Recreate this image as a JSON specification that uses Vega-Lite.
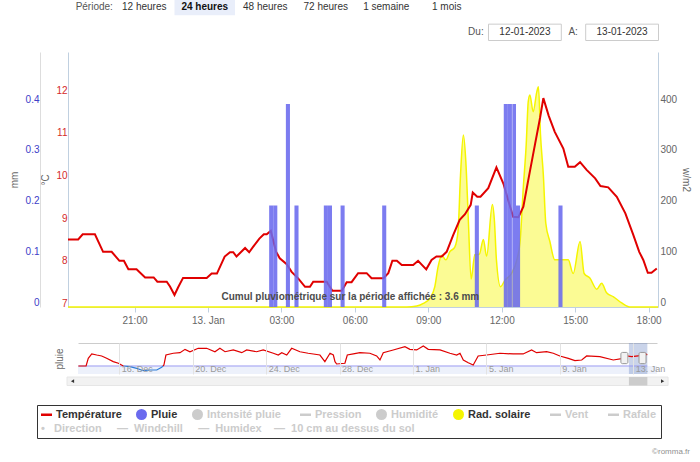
{
  "$schema": "https://vega.github.io/schema/vega-lite/v6.json",
  "width": 700,
  "height": 462,
  "autosize": {"type": "none"},
  "padding": 0,
  "background": "white",
  "title": {"text": "©romma.fr", "orient": "bottom", "anchor": "end", "frame": "group", "offset": -14, "dx": -10, "fontSize": 8, "fontWeight": "normal", "color": "#909090", "font": "Liberation Sans"},
  "datasets": {
    "periodes": [
      {"label": "12 heures", "actif": false},
      {"label": "24 heures", "actif": true},
      {"label": "48 heures", "actif": false},
      {"label": "72 heures", "actif": false},
      {"label": "1 semaine", "actif": false},
      {"label": "1 mois", "actif": false}
    ],
    "dates": [
      {"label": "Du:", "date": "12-01-2023"},
      {"label": "A:", "date": "13-01-2023"}
    ],
    "temperature": [
      {"time": "2023-01-12T18:17", "temp": 8.5},
      {"time": "2023-01-12T18:42", "temp": 8.5},
      {"time": "2023-01-12T18:53", "temp": 8.62},
      {"time": "2023-01-12T19:23", "temp": 8.62},
      {"time": "2023-01-12T19:43", "temp": 8.21},
      {"time": "2023-01-12T20:04", "temp": 8.21},
      {"time": "2023-01-12T20:23", "temp": 8.0},
      {"time": "2023-01-12T20:34", "temp": 8.0},
      {"time": "2023-01-12T20:45", "temp": 7.8},
      {"time": "2023-01-12T21:05", "temp": 7.8},
      {"time": "2023-01-12T21:26", "temp": 7.61},
      {"time": "2023-01-12T21:47", "temp": 7.61},
      {"time": "2023-01-12T21:56", "temp": 7.51},
      {"time": "2023-01-12T22:19", "temp": 7.51},
      {"time": "2023-01-12T22:27", "temp": 7.4},
      {"time": "2023-01-12T22:38", "temp": 7.2},
      {"time": "2023-01-12T22:47", "temp": 7.38},
      {"time": "2023-01-12T22:59", "temp": 7.6},
      {"time": "2023-01-12T23:57", "temp": 7.6},
      {"time": "2023-01-13T00:09", "temp": 7.7},
      {"time": "2023-01-13T00:22", "temp": 7.7},
      {"time": "2023-01-13T00:41", "temp": 8.1},
      {"time": "2023-01-13T00:54", "temp": 8.2},
      {"time": "2023-01-13T01:02", "temp": 8.2},
      {"time": "2023-01-13T01:10", "temp": 8.1},
      {"time": "2023-01-13T01:31", "temp": 8.3},
      {"time": "2023-01-13T01:41", "temp": 8.2},
      {"time": "2023-01-13T01:51", "temp": 8.33},
      {"time": "2023-01-13T02:06", "temp": 8.52},
      {"time": "2023-01-13T02:17", "temp": 8.62},
      {"time": "2023-01-13T02:24", "temp": 8.62},
      {"time": "2023-01-13T02:34", "temp": 8.7},
      {"time": "2023-01-13T02:47", "temp": 8.21},
      {"time": "2023-01-13T02:56", "temp": 8.06},
      {"time": "2023-01-13T03:13", "temp": 7.92},
      {"time": "2023-01-13T03:25", "temp": 7.74},
      {"time": "2023-01-13T03:41", "temp": 7.59},
      {"time": "2023-01-13T03:58", "temp": 7.39},
      {"time": "2023-01-13T04:10", "temp": 7.39},
      {"time": "2023-01-13T04:18", "temp": 7.51},
      {"time": "2023-01-13T04:51", "temp": 7.51},
      {"time": "2023-01-13T05:05", "temp": 7.3},
      {"time": "2023-01-13T05:28", "temp": 7.3},
      {"time": "2023-01-13T05:40", "temp": 7.5},
      {"time": "2023-01-13T05:52", "temp": 7.5},
      {"time": "2023-01-13T06:08", "temp": 7.71},
      {"time": "2023-01-13T06:29", "temp": 7.71},
      {"time": "2023-01-13T06:41", "temp": 7.59},
      {"time": "2023-01-13T07:10", "temp": 7.59},
      {"time": "2023-01-13T07:22", "temp": 7.71},
      {"time": "2023-01-13T07:32", "temp": 8.0},
      {"time": "2023-01-13T07:43", "temp": 8.0},
      {"time": "2023-01-13T07:55", "temp": 7.9},
      {"time": "2023-01-13T08:23", "temp": 7.9},
      {"time": "2023-01-13T08:35", "temp": 8.0},
      {"time": "2023-01-13T08:55", "temp": 7.8},
      {"time": "2023-01-13T09:08", "temp": 8.02},
      {"time": "2023-01-13T09:20", "temp": 8.1},
      {"time": "2023-01-13T09:33", "temp": 8.1},
      {"time": "2023-01-13T09:45", "temp": 8.21},
      {"time": "2023-01-13T10:01", "temp": 8.6},
      {"time": "2023-01-13T10:17", "temp": 8.96},
      {"time": "2023-01-13T10:30", "temp": 9.09},
      {"time": "2023-01-13T10:44", "temp": 9.31},
      {"time": "2023-01-13T10:49", "temp": 9.6},
      {"time": "2023-01-13T11:00", "temp": 9.5},
      {"time": "2023-01-13T11:08", "temp": 9.5},
      {"time": "2023-01-13T11:27", "temp": 9.7},
      {"time": "2023-01-13T11:47", "temp": 10.19},
      {"time": "2023-01-13T12:04", "temp": 9.81},
      {"time": "2023-01-13T12:18", "temp": 9.35},
      {"time": "2023-01-13T12:28", "temp": 9.03},
      {"time": "2023-01-13T12:41", "temp": 9.02},
      {"time": "2023-01-13T12:53", "temp": 9.27},
      {"time": "2023-01-13T13:05", "temp": 9.89},
      {"time": "2023-01-13T13:22", "temp": 10.75},
      {"time": "2023-01-13T13:34", "temp": 11.35},
      {"time": "2023-01-13T13:42", "temp": 11.81},
      {"time": "2023-01-13T13:55", "temp": 11.4},
      {"time": "2023-01-13T14:10", "temp": 11.02},
      {"time": "2023-01-13T14:31", "temp": 10.63},
      {"time": "2023-01-13T14:43", "temp": 10.2},
      {"time": "2023-01-13T14:59", "temp": 10.2},
      {"time": "2023-01-13T15:12", "temp": 10.31},
      {"time": "2023-01-13T15:28", "temp": 10.13},
      {"time": "2023-01-13T15:49", "temp": 9.93},
      {"time": "2023-01-13T16:02", "temp": 9.75},
      {"time": "2023-01-13T16:21", "temp": 9.72},
      {"time": "2023-01-13T16:42", "temp": 9.5},
      {"time": "2023-01-13T17:03", "temp": 9.11},
      {"time": "2023-01-13T17:22", "temp": 8.62},
      {"time": "2023-01-13T17:37", "temp": 8.21},
      {"time": "2023-01-13T17:47", "temp": 8.02},
      {"time": "2023-01-13T17:58", "temp": 7.72},
      {"time": "2023-01-13T18:07", "temp": 7.72},
      {"time": "2023-01-13T18:20", "temp": 7.82}
    ],
    "pluie": [
      {"start": "2023-01-13T02:30", "end": "2023-01-13T02:40", "mm": 0.2},
      {"start": "2023-01-13T02:40", "end": "2023-01-13T02:50", "mm": 0.2},
      {"start": "2023-01-13T03:11", "end": "2023-01-13T03:21", "mm": 0.4},
      {"start": "2023-01-13T03:32", "end": "2023-01-13T03:42", "mm": 0.2},
      {"start": "2023-01-13T04:44", "end": "2023-01-13T04:54", "mm": 0.2},
      {"start": "2023-01-13T04:54", "end": "2023-01-13T05:04", "mm": 0.2},
      {"start": "2023-01-13T05:25", "end": "2023-01-13T05:35", "mm": 0.2},
      {"start": "2023-01-13T07:07", "end": "2023-01-13T07:17", "mm": 0.2},
      {"start": "2023-01-13T10:54", "end": "2023-01-13T11:04", "mm": 0.2},
      {"start": "2023-01-13T12:05", "end": "2023-01-13T12:15", "mm": 0.4},
      {"start": "2023-01-13T12:15", "end": "2023-01-13T12:25", "mm": 0.4},
      {"start": "2023-01-13T12:26", "end": "2023-01-13T12:35", "mm": 0.4},
      {"start": "2023-01-13T12:35", "end": "2023-01-13T12:45", "mm": 0.2},
      {"start": "2023-01-13T14:19", "end": "2023-01-13T14:29", "mm": 0.2}
    ],
    "rayonnement": [
      {"time": "2023-01-12T18:17", "wm2": 0},
      {"time": "2023-01-13T07:50", "wm2": 0},
      {"time": "2023-01-13T08:07", "wm2": 0},
      {"time": "2023-01-13T08:32", "wm2": 2},
      {"time": "2023-01-13T08:48", "wm2": 7},
      {"time": "2023-01-13T09:04", "wm2": 17},
      {"time": "2023-01-13T09:16", "wm2": 40},
      {"time": "2023-01-13T09:24", "wm2": 79},
      {"time": "2023-01-13T09:33", "wm2": 102},
      {"time": "2023-01-13T09:43", "wm2": 93},
      {"time": "2023-01-13T09:53", "wm2": 109},
      {"time": "2023-01-13T10:05", "wm2": 118},
      {"time": "2023-01-13T10:13", "wm2": 150},
      {"time": "2023-01-13T10:19", "wm2": 260},
      {"time": "2023-01-13T10:26", "wm2": 339},
      {"time": "2023-01-13T10:32", "wm2": 287},
      {"time": "2023-01-13T10:38", "wm2": 175},
      {"time": "2023-01-13T10:45", "wm2": 55},
      {"time": "2023-01-13T10:54", "wm2": 103},
      {"time": "2023-01-13T11:05", "wm2": 104},
      {"time": "2023-01-13T11:15", "wm2": 133},
      {"time": "2023-01-13T11:23", "wm2": 100},
      {"time": "2023-01-13T11:37", "wm2": 202},
      {"time": "2023-01-13T11:42", "wm2": 171},
      {"time": "2023-01-13T11:47", "wm2": 93},
      {"time": "2023-01-13T11:57", "wm2": 40},
      {"time": "2023-01-13T12:08", "wm2": 53},
      {"time": "2023-01-13T12:24", "wm2": 66},
      {"time": "2023-01-13T12:37", "wm2": 93},
      {"time": "2023-01-13T12:45", "wm2": 129},
      {"time": "2023-01-13T12:53", "wm2": 237},
      {"time": "2023-01-13T13:00", "wm2": 320},
      {"time": "2023-01-13T13:05", "wm2": 405},
      {"time": "2023-01-13T13:09", "wm2": 418},
      {"time": "2023-01-13T13:17", "wm2": 385},
      {"time": "2023-01-13T13:26", "wm2": 424},
      {"time": "2023-01-13T13:30", "wm2": 434},
      {"time": "2023-01-13T13:35", "wm2": 340},
      {"time": "2023-01-13T13:42", "wm2": 260},
      {"time": "2023-01-13T13:48", "wm2": 165},
      {"time": "2023-01-13T13:58", "wm2": 129},
      {"time": "2023-01-13T14:10", "wm2": 93},
      {"time": "2023-01-13T14:43", "wm2": 93},
      {"time": "2023-01-13T14:55", "wm2": 66},
      {"time": "2023-01-13T15:12", "wm2": 129},
      {"time": "2023-01-13T15:22", "wm2": 66},
      {"time": "2023-01-13T15:36", "wm2": 57},
      {"time": "2023-01-13T15:53", "wm2": 35},
      {"time": "2023-01-13T16:05", "wm2": 47},
      {"time": "2023-01-13T16:17", "wm2": 28},
      {"time": "2023-01-13T16:34", "wm2": 20},
      {"time": "2023-01-13T16:54", "wm2": 8},
      {"time": "2023-01-13T17:14", "wm2": 0},
      {"time": "2023-01-13T18:23", "wm2": 0}
    ],
    "nav_temperature": [
      {"time": "2022-12-13T18:29", "temp": 0, "segment": 1},
      {"time": "2022-12-14T04:34", "temp": 0, "segment": 1},
      {"time": "2022-12-14T07:26", "temp": 6.5, "segment": 1},
      {"time": "2022-12-14T12:00", "temp": 10.2, "segment": 1},
      {"time": "2022-12-14T18:29", "temp": 9.3, "segment": 1},
      {"time": "2022-12-15T00:58", "temp": 8.5, "segment": 1},
      {"time": "2022-12-15T07:26", "temp": 6.5, "segment": 1},
      {"time": "2022-12-15T16:05", "temp": 3.7, "segment": 1},
      {"time": "2022-12-15T22:48", "temp": 2.3, "segment": 1},
      {"time": "2022-12-16T05:17", "temp": 0, "segment": 1},
      {"time": "2022-12-16T05:17", "temp": 0, "segment": 2},
      {"time": "2022-12-16T13:55", "temp": -0.6, "segment": 2},
      {"time": "2022-12-16T22:48", "temp": -2.0, "segment": 2},
      {"time": "2022-12-17T07:26", "temp": -4.0, "segment": 2},
      {"time": "2022-12-17T16:05", "temp": -3.4, "segment": 2},
      {"time": "2022-12-18T00:58", "temp": -3.4, "segment": 2},
      {"time": "2022-12-18T07:26", "temp": -1.1, "segment": 2},
      {"time": "2022-12-18T09:07", "temp": 0, "segment": 2},
      {"time": "2022-12-18T09:07", "temp": 0, "segment": 3},
      {"time": "2022-12-18T10:19", "temp": 0.8, "segment": 3},
      {"time": "2022-12-18T12:58", "temp": 9.3, "segment": 3},
      {"time": "2022-12-18T22:34", "temp": 10.8, "segment": 3},
      {"time": "2022-12-19T07:26", "temp": 11.3, "segment": 3},
      {"time": "2022-12-19T13:55", "temp": 14.1, "segment": 3},
      {"time": "2022-12-19T20:24", "temp": 12.1, "segment": 3},
      {"time": "2022-12-20T07:12", "temp": 15.0, "segment": 3},
      {"time": "2022-12-20T18:14", "temp": 15.0, "segment": 3},
      {"time": "2022-12-21T05:02", "temp": 12.1, "segment": 3},
      {"time": "2022-12-21T11:31", "temp": 15.0, "segment": 3},
      {"time": "2022-12-21T18:14", "temp": 12.1, "segment": 3},
      {"time": "2022-12-22T05:02", "temp": 13.6, "segment": 3},
      {"time": "2022-12-22T16:05", "temp": 11.3, "segment": 3},
      {"time": "2022-12-22T22:34", "temp": 13.6, "segment": 3},
      {"time": "2022-12-23T11:31", "temp": 12.1, "segment": 3},
      {"time": "2022-12-23T20:10", "temp": 13.6, "segment": 3},
      {"time": "2022-12-24T09:22", "temp": 10.8, "segment": 3},
      {"time": "2022-12-24T15:50", "temp": 9.3, "segment": 3},
      {"time": "2022-12-24T20:24", "temp": 11.3, "segment": 3},
      {"time": "2022-12-25T02:53", "temp": 9.3, "segment": 3},
      {"time": "2022-12-25T09:22", "temp": 15.0, "segment": 3},
      {"time": "2022-12-25T20:10", "temp": 12.1, "segment": 3},
      {"time": "2022-12-26T06:58", "temp": 10.8, "segment": 3},
      {"time": "2022-12-26T22:19", "temp": 9.3, "segment": 3},
      {"time": "2022-12-27T04:48", "temp": 3.7, "segment": 3},
      {"time": "2022-12-27T11:31", "temp": 10.8, "segment": 3},
      {"time": "2022-12-27T15:50", "temp": 9.3, "segment": 3},
      {"time": "2022-12-27T18:00", "temp": 3.7, "segment": 3},
      {"time": "2022-12-27T20:10", "temp": 1.7, "segment": 3},
      {"time": "2022-12-28T06:58", "temp": 2.3, "segment": 3},
      {"time": "2022-12-28T10:05", "temp": 9.3, "segment": 3},
      {"time": "2022-12-28T18:00", "temp": 10.2, "segment": 3},
      {"time": "2022-12-29T02:38", "temp": 11.3, "segment": 3},
      {"time": "2022-12-29T15:36", "temp": 10.8, "segment": 3},
      {"time": "2022-12-30T00:29", "temp": 8.5, "segment": 3},
      {"time": "2022-12-30T04:48", "temp": 5.1, "segment": 3},
      {"time": "2022-12-30T09:07", "temp": 11.3, "segment": 3},
      {"time": "2022-12-30T22:05", "temp": 13.6, "segment": 3},
      {"time": "2022-12-31T13:26", "temp": 16.4, "segment": 3},
      {"time": "2022-12-31T19:55", "temp": 14.1, "segment": 3},
      {"time": "2023-01-01T04:48", "temp": 13.6, "segment": 3},
      {"time": "2023-01-01T13:26", "temp": 17.0, "segment": 3},
      {"time": "2023-01-01T19:55", "temp": 14.1, "segment": 3},
      {"time": "2023-01-02T11:17", "temp": 13.6, "segment": 3},
      {"time": "2023-01-03T00:14", "temp": 10.8, "segment": 3},
      {"time": "2023-01-03T09:07", "temp": 9.3, "segment": 3},
      {"time": "2023-01-03T13:26", "temp": 10.8, "segment": 3},
      {"time": "2023-01-03T17:46", "temp": 5.1, "segment": 3},
      {"time": "2023-01-04T00:14", "temp": 2.8, "segment": 3},
      {"time": "2023-01-04T06:43", "temp": 0.8, "segment": 3},
      {"time": "2023-01-04T13:12", "temp": 8.5, "segment": 3},
      {"time": "2023-01-05T00:14", "temp": 9.3, "segment": 3},
      {"time": "2023-01-05T17:46", "temp": 10.8, "segment": 3},
      {"time": "2023-01-06T11:02", "temp": 10.2, "segment": 3},
      {"time": "2023-01-07T00:00", "temp": 10.2, "segment": 3},
      {"time": "2023-01-07T11:02", "temp": 13.6, "segment": 3},
      {"time": "2023-01-07T17:31", "temp": 11.3, "segment": 3},
      {"time": "2023-01-08T06:43", "temp": 12.1, "segment": 3},
      {"time": "2023-01-08T15:22", "temp": 10.8, "segment": 3},
      {"time": "2023-01-09T00:00", "temp": 8.5, "segment": 3},
      {"time": "2023-01-09T11:02", "temp": 6.5, "segment": 3},
      {"time": "2023-01-09T19:41", "temp": 4.5, "segment": 3},
      {"time": "2023-01-10T04:34", "temp": 5.1, "segment": 3},
      {"time": "2023-01-10T11:02", "temp": 8.5, "segment": 3},
      {"time": "2023-01-11T04:19", "temp": 7.9, "segment": 3},
      {"time": "2023-01-11T21:50", "temp": 5.1, "segment": 3},
      {"time": "2023-01-12T10:48", "temp": 6.5, "segment": 3},
      {"time": "2023-01-12T15:22", "temp": 8.5, "segment": 3},
      {"time": "2023-01-12T21:50", "temp": 7.9, "segment": 3},
      {"time": "2023-01-13T06:29", "temp": 8.5, "segment": 3},
      {"time": "2023-01-13T15:07", "temp": 10.8, "segment": 3},
      {"time": "2023-01-13T18:14", "temp": 9.3, "segment": 3}
    ],
    "nav_pluie": [
      {"time": "2022-12-13T18:29", "mm": 0},
      {"time": "2023-01-13T18:20", "mm": 0}
    ]
  },
  "layer": [
    {
      "data": {"name": "periodes"},
      "transform": [{"filter": "datum.actif"}],
      "mark": {"type": "rect", "fill": "#e9eefa"},
      "encoding": {
        "x": {"field": "label", "type": "nominal", "axis": null, "scale": {"type": "band", "domain": ["12 heures", "24 heures", "48 heures", "72 heures", "1 semaine", "1 mois"], "range": [114, 477], "paddingInner": 0, "paddingOuter": 0}},
        "y": {"datum": "periodes", "type": "nominal", "axis": null, "scale": {"type": "band", "domain": ["periodes", "dates"], "range": [-1, 40.5], "paddingInner": 0.35, "paddingOuter": 0}}
      }
    },
    {
      "data": {"name": "periodes"},
      "transform": [{"filter": "!datum.actif"}],
      "mark": {"type": "text", "font": "Liberation Sans", "fontSize": 10, "color": "#333333"},
      "encoding": {
        "x": {"field": "label", "type": "nominal", "axis": null, "scale": {"type": "band", "domain": ["12 heures", "24 heures", "48 heures", "72 heures", "1 semaine", "1 mois"], "range": [114, 477], "paddingInner": 0, "paddingOuter": 0}},
        "y": {"datum": "periodes", "type": "nominal", "axis": null, "scale": {"type": "band", "domain": ["periodes", "dates"], "range": [-1, 40.5], "paddingInner": 0.35, "paddingOuter": 0}},
        "text": {"field": "label"}
      }
    },
    {
      "data": {"name": "periodes"},
      "transform": [{"filter": "datum.actif"}],
      "mark": {"type": "text", "font": "Liberation Sans", "fontSize": 10, "fontWeight": "bold", "color": "#111111"},
      "encoding": {
        "x": {"field": "label", "type": "nominal", "axis": null, "scale": {"type": "band", "domain": ["12 heures", "24 heures", "48 heures", "72 heures", "1 semaine", "1 mois"], "range": [114, 477], "paddingInner": 0, "paddingOuter": 0}},
        "y": {"datum": "periodes", "type": "nominal", "axis": null, "scale": {"type": "band", "domain": ["periodes", "dates"], "range": [-1, 40.5], "paddingInner": 0.35, "paddingOuter": 0}},
        "text": {"field": "label"}
      }
    },
    {
      "data": {"values": [{"label": "Période:"}]},
      "mark": {"type": "text", "font": "Liberation Sans", "fontSize": 10, "color": "#555555", "dx": -50},
      "encoding": {
        "x": {"datum": "12 heures", "type": "nominal", "axis": null, "scale": {"type": "band", "domain": ["12 heures", "24 heures", "48 heures", "72 heures", "1 semaine", "1 mois"], "range": [114, 477], "paddingInner": 0, "paddingOuter": 0}},
        "y": {"datum": "periodes", "type": "nominal", "axis": null, "scale": {"type": "band", "domain": ["periodes", "dates"], "range": [-1, 40.5], "paddingInner": 0.35, "paddingOuter": 0}},
        "text": {"field": "label"}
      }
    },
    {
      "data": {"name": "dates"},
      "mark": {"type": "rect", "fill": "#ffffff", "stroke": "#cccccc", "strokeWidth": 1},
      "encoding": {
        "x": {"field": "date", "type": "nominal", "axis": null, "scale": {"type": "band", "domain": ["12-01-2023", "13-01-2023"], "range": [488.5, 658.5], "paddingInner": 0.251, "paddingOuter": 0}},
        "y": {"datum": "dates", "type": "nominal", "axis": null, "scale": {"type": "band", "domain": ["periodes", "dates"], "range": [-1, 40.5], "paddingInner": 0.35, "paddingOuter": 0}}
      }
    },
    {
      "data": {"name": "dates"},
      "mark": {"type": "text", "font": "Liberation Sans", "fontSize": 10, "color": "#333333"},
      "encoding": {
        "x": {"field": "date", "type": "nominal", "axis": null, "scale": {"type": "band", "domain": ["12-01-2023", "13-01-2023"], "range": [488.5, 658.5], "paddingInner": 0.251, "paddingOuter": 0}},
        "y": {"datum": "dates", "type": "nominal", "axis": null, "scale": {"type": "band", "domain": ["periodes", "dates"], "range": [-1, 40.5], "paddingInner": 0.35, "paddingOuter": 0}},
        "text": {"field": "date"}
      }
    },
    {
      "data": {"name": "dates"},
      "mark": {"type": "text", "font": "Liberation Sans", "fontSize": 10, "color": "#555555", "dx": -49},
      "encoding": {
        "x": {"field": "date", "type": "nominal", "axis": null, "scale": {"type": "band", "domain": ["12-01-2023", "13-01-2023"], "range": [488.5, 658.5], "paddingInner": 0.251, "paddingOuter": 0}},
        "y": {"datum": "dates", "type": "nominal", "axis": null, "scale": {"type": "band", "domain": ["periodes", "dates"], "range": [-1, 40.5], "paddingInner": 0.35, "paddingOuter": 0}},
        "text": {"field": "label"}
      }
    },
    {
      "data": {"values": [{}]},
      "mark": {"type": "rect", "fill": "#edf1fb"},
      "encoding": {
        "x": {"datum": {"year": 2022, "month": 12, "date": 13, "hours": 18, "minutes": 0}, "type": "temporal",
              "scale": {"type": "time", "domain": [{"year": 2022, "month": 12, "date": 13, "hours": 18, "minutes": 0}, {"year": 2023, "month": 1, "date": 14, "hours": 7, "minutes": 0}], "range": [78, 657], "nice": false},
              "axis": {"orient": "top", "offset": -343, "labels": false, "ticks": false, "grid": false, "domain": true, "domainColor": "#cccccc", "title": null}},
        "x2": {"datum": {"year": 2023, "month": 1, "date": 14, "hours": 7, "minutes": 0}},
        "y": {"datum": 0, "type": "quantitative", "axis": null, "scale": {"domain": [-6.8, 19.5], "range": [374, 343], "nice": false, "zero": false}},
        "y2": {"datum": -6.8}
      }
    },
    {
      "data": {"values": [{}]},
      "mark": {"type": "rect", "fill": "#6685c2", "opacity": 0.35},
      "encoding": {
        "x": {"datum": {"year": 2023, "month": 1, "date": 12, "hours": 18, "minutes": 17}, "type": "temporal", "axis": null,
              "scale": {"type": "time", "domain": [{"year": 2022, "month": 12, "date": 13, "hours": 18, "minutes": 0}, {"year": 2023, "month": 1, "date": 14, "hours": 7, "minutes": 0}], "range": [78, 657], "nice": false}},
        "x2": {"datum": {"year": 2023, "month": 1, "date": 13, "hours": 18, "minutes": 23}},
        "y": {"datum": 19.5, "type": "quantitative", "axis": null, "scale": {"domain": [-6.8, 19.5], "range": [374, 343], "nice": false, "zero": false}},
        "y2": {"datum": -6.8}
      }
    },
    {
      "data": {"name": "nav_pluie"},
      "mark": {"type": "line", "color": "#9a9af2", "strokeWidth": 1},
      "encoding": {
        "x": {"field": "time", "type": "temporal", "axis": null,
              "scale": {"type": "time", "domain": [{"year": 2022, "month": 12, "date": 13, "hours": 18, "minutes": 0}, {"year": 2023, "month": 1, "date": 14, "hours": 7, "minutes": 0}], "range": [78, 657], "nice": false}},
        "y": {"field": "mm", "type": "quantitative", "scale": {"domain": [-6.8, 19.5], "range": [374, 343], "nice": false, "zero": false},
              "axis": {"orient": "left", "offset": -78, "labels": false, "ticks": false, "domain": false, "grid": false, "title": "pluie", "titleColor": "#666666", "titleFont": "Liberation Sans", "titleFontSize": 10, "titleFontWeight": "normal", "titlePadding": 14}}
      }
    },
    {
      "data": {"name": "nav_temperature"},
      "transform": [{"filter": "datum.segment == 2"}],
      "mark": {"type": "line", "color": "#2f7ed8", "strokeWidth": 1.2},
      "encoding": {
        "x": {"field": "time", "type": "temporal", "axis": null,
              "scale": {"type": "time", "domain": [{"year": 2022, "month": 12, "date": 13, "hours": 18, "minutes": 0}, {"year": 2023, "month": 1, "date": 14, "hours": 7, "minutes": 0}], "range": [78, 657], "nice": false}},
        "y": {"field": "temp", "type": "quantitative", "axis": null, "scale": {"domain": [-6.8, 19.5], "range": [374, 343], "nice": false, "zero": false}}
      }
    },
    {
      "data": {"name": "nav_temperature"},
      "transform": [{"filter": "datum.segment != 2"}],
      "mark": {"type": "line", "color": "#e00000", "strokeWidth": 1.2},
      "encoding": {
        "x": {"field": "time", "type": "temporal",
              "scale": {"type": "time", "domain": [{"year": 2022, "month": 12, "date": 13, "hours": 18, "minutes": 0}, {"year": 2023, "month": 1, "date": 14, "hours": 7, "minutes": 0}], "range": [78, 657], "nice": false},
              "axis": {"orient": "bottom", "offset": -88, "title": null, "grid": false, "domain": false, "zindex": 1,
                       "values": [{"year": 2022, "month": 12, "date": 16}, {"year": 2022, "month": 12, "date": 20}, {"year": 2022, "month": 12, "date": 24}, {"year": 2022, "month": 12, "date": 28}, {"year": 2023, "month": 1, "date": 1}, {"year": 2023, "month": 1, "date": 5}, {"year": 2023, "month": 1, "date": 9}, {"year": 2023, "month": 1, "date": 13}],
                       "format": "%-d. %b", "labelAlign": "left", "labelOffset": 2, "labelPadding": 21, "tickSize": -31, "tickColor": "#e3e3e3", "tickWidth": 1,
                       "labelColor": "#9a9a9a", "labelFont": "Liberation Sans", "labelFontSize": 9, "labelFlush": false, "labelOverlap": false, "labelBound": false, "labelBaseline": "top"}},
        "y": {"field": "temp", "type": "quantitative", "axis": null, "scale": {"domain": [-6.8, 19.5], "range": [374, 343], "nice": false, "zero": false}},
        "detail": {"field": "segment", "type": "nominal"}
      }
    },
    {
      "data": {"values": [{}]},
      "mark": {"type": "bar", "width": 7, "fill": "#f2f2f2", "stroke": "#999999", "strokeWidth": 1, "cornerRadius": 1.5},
      "encoding": {
        "x": {"datum": {"year": 2023, "month": 1, "date": 12, "hours": 18, "minutes": 17}, "type": "temporal", "axis": null,
              "scale": {"type": "time", "domain": [{"year": 2022, "month": 12, "date": 13, "hours": 18, "minutes": 0}, {"year": 2023, "month": 1, "date": 14, "hours": 7, "minutes": 0}], "range": [78, 657], "nice": false}},
        "y": {"datum": 11.5, "type": "quantitative", "axis": null, "scale": {"domain": [-6.8, 19.5], "range": [374, 343], "nice": false, "zero": false}},
        "y2": {"datum": 2}
      }
    },
    {
      "data": {"values": [{}]},
      "mark": {"type": "bar", "width": 7, "fill": "#f2f2f2", "stroke": "#999999", "strokeWidth": 1, "cornerRadius": 1.5},
      "encoding": {
        "x": {"datum": {"year": 2023, "month": 1, "date": 13, "hours": 18, "minutes": 23}, "type": "temporal", "axis": null,
              "scale": {"type": "time", "domain": [{"year": 2022, "month": 12, "date": 13, "hours": 18, "minutes": 0}, {"year": 2023, "month": 1, "date": 14, "hours": 7, "minutes": 0}], "range": [78, 657], "nice": false}},
        "y": {"datum": 11.5, "type": "quantitative", "axis": null, "scale": {"domain": [-6.8, 19.5], "range": [374, 343], "nice": false, "zero": false}},
        "y2": {"datum": 2}
      }
    },
    {
      "data": {"values": [{}]},
      "mark": {"type": "rect", "fill": "#f2f2f2", "stroke": "#e6e6e6", "strokeWidth": 1},
      "encoding": {
        "x": {"datum": {"year": 2022, "month": 12, "date": 13, "hours": 3, "minutes": 38}, "type": "temporal", "axis": null,
              "scale": {"type": "time", "domain": [{"year": 2022, "month": 12, "date": 13, "hours": 18, "minutes": 0}, {"year": 2023, "month": 1, "date": 14, "hours": 7, "minutes": 0}], "range": [78, 657], "nice": false}},
        "x2": {"datum": {"year": 2023, "month": 1, "date": 14, "hours": 21, "minutes": 29}},
        "y": {"datum": -9.35, "type": "quantitative", "axis": null, "scale": {"domain": [-6.8, 19.5], "range": [374, 343], "nice": false, "zero": false}},
        "y2": {"datum": -16.55}
      }
    },
    {
      "data": {"values": [{}]},
      "mark": {"type": "rect", "fill": "#cccccc"},
      "encoding": {
        "x": {"datum": {"year": 2023, "month": 1, "date": 12, "hours": 18, "minutes": 17}, "type": "temporal", "axis": null,
              "scale": {"type": "time", "domain": [{"year": 2022, "month": 12, "date": 13, "hours": 18, "minutes": 0}, {"year": 2023, "month": 1, "date": 14, "hours": 7, "minutes": 0}], "range": [78, 657], "nice": false}},
        "x2": {"datum": {"year": 2023, "month": 1, "date": 13, "hours": 18, "minutes": 23}},
        "y": {"datum": -9.35, "type": "quantitative", "axis": null, "scale": {"domain": [-6.8, 19.5], "range": [374, 343], "nice": false, "zero": false}},
        "y2": {"datum": -16.55}
      }
    },
    {
      "data": {"values": [{}]},
      "mark": {"type": "point", "shape": "triangle-left", "size": 14, "filled": true, "color": "#333333", "opacity": 1},
      "encoding": {
        "x": {"datum": {"year": 2022, "month": 12, "date": 13, "hours": 10, "minutes": 50}, "type": "temporal", "axis": null,
              "scale": {"type": "time", "domain": [{"year": 2022, "month": 12, "date": 13, "hours": 18, "minutes": 0}, {"year": 2023, "month": 1, "date": 14, "hours": 7, "minutes": 0}], "range": [78, 657], "nice": false}},
        "y": {"datum": -12.9, "type": "quantitative", "axis": null, "scale": {"domain": [-6.8, 19.5], "range": [374, 343], "nice": false, "zero": false}}
      }
    },
    {
      "data": {"values": [{}]},
      "mark": {"type": "point", "shape": "triangle-right", "size": 14, "filled": true, "color": "#333333", "opacity": 1},
      "encoding": {
        "x": {"datum": {"year": 2023, "month": 1, "date": 14, "hours": 14, "minutes": 20}, "type": "temporal", "axis": null,
              "scale": {"type": "time", "domain": [{"year": 2022, "month": 12, "date": 13, "hours": 18, "minutes": 0}, {"year": 2023, "month": 1, "date": 14, "hours": 7, "minutes": 0}], "range": [78, 657], "nice": false}},
        "y": {"datum": -12.9, "type": "quantitative", "axis": null, "scale": {"domain": [-6.8, 19.5], "range": [374, 343], "nice": false, "zero": false}}
      }
    },
    {
      "data": {"name": "rayonnement"},
      "mark": {"type": "area", "interpolate": "monotone", "fillOpacity": 0.42, "line": {"strokeWidth": 1.5}},
      "encoding": {
        "x": {"field": "time", "type": "temporal", "axis": null,
              "scale": {"type": "time", "domain": [{"year": 2023, "month": 1, "date": 12, "hours": 18, "minutes": 17}, {"year": 2023, "month": 1, "date": 13, "hours": 18, "minutes": 23}], "range": [68, 658], "nice": false}},
        "y": {"field": "wm2", "type": "quantitative", "scale": {"domain": [0, 502.5], "range": [307, 52], "nice": false, "zero": false},
              "axis": {"orient": "right", "offset": -42, "values": [0, 100, 200, 300, 400], "title": "w/m2", "titleAngle": 90, "titleColor": "#666666", "titleFont": "Liberation Sans", "titleFontSize": 10, "titleFontWeight": "normal", "titlePadding": 4,
                       "labelColor": "#666666", "labelFont": "Liberation Sans", "labelFontSize": 10, "labelPadding": 2, "labelOffset": -5, "ticks": false, "grid": false, "domainColor": "#c0d0e0"}},
        "color": {"datum": "Rad. solaire", "type": "nominal",
                  "scale": {"domain": ["Température", "Pluie", "Intensité pluie", "Pression", "Humidité", "Rad. solaire", "Vent", "Rafale"],
                            "range": ["#e00000", "#6a6aee", "#cccccc", "#cccccc", "#cccccc", "#f5f500", "#cccccc", "#cccccc"]},
                  "legend": {"title": "\u00a0•\u00a0\u00a0\u00a0Direction\u00a0\u00a0\u00a0\u00a0\u00a0—\u00a0\u00a0Windchill\u00a0\u00a0\u00a0\u00a0\u00a0—\u00a0\u00a0Humidex\u00a0\u00a0\u00a0\u00a0—\u00a0\u00a010 cm au dessus du sol",
                             "titleOrient": "bottom", "titleAnchor": "start", "titleColor": "#cccccc", "titleFont": "Liberation Sans", "titleFontSize": 11, "titleFontWeight": "bold", "titleLimit": 0, "titlePadding": 3,
                             "orient": "none", "legendX": 37, "legendY": 405, "direction": "horizontal"}}
      }
    },
    {
      "data": {"name": "temperature"},
      "mark": {"type": "line", "strokeWidth": 2},
      "encoding": {
        "x": {"field": "time", "type": "temporal",
              "scale": {"type": "time", "domain": [{"year": 2023, "month": 1, "date": 12, "hours": 18, "minutes": 17}, {"year": 2023, "month": 1, "date": 13, "hours": 18, "minutes": 23}], "range": [68, 658], "nice": false},
              "axis": {"orient": "bottom", "offset": -155, "title": null, "grid": false,
                       "values": [{"year": 2023, "month": 1, "date": 12, "hours": 21}, {"year": 2023, "month": 1, "date": 13, "hours": 0}, {"year": 2023, "month": 1, "date": 13, "hours": 3}, {"year": 2023, "month": 1, "date": 13, "hours": 6}, {"year": 2023, "month": 1, "date": 13, "hours": 9}, {"year": 2023, "month": 1, "date": 13, "hours": 12}, {"year": 2023, "month": 1, "date": 13, "hours": 15}, {"year": 2023, "month": 1, "date": 13, "hours": 18}],
                       "labelExpr": "hours(datum.value) == 0 ? timeFormat(datum.value, '%-d. %b') : timeFormat(datum.value, '%H:%M')",
                       "domainColor": "#c0d0e0", "tickColor": "#c0d0e0", "tickSize": 5, "labelPadding": 3, "labelColor": "#666666", "labelFont": "Liberation Sans", "labelFontSize": 10, "labelFlush": false, "labelOverlap": false}},
        "y": {"field": "temp", "type": "quantitative", "scale": {"domain": [6.918, 12.89], "range": [307, 52], "nice": false, "zero": false},
              "axis": {"orient": "left", "offset": -68, "values": [7, 8, 9, 10, 11, 12], "title": "°C", "titleColor": "#666666", "titleFont": "Liberation Sans", "titleFontSize": 10, "titleFontWeight": "normal", "titlePadding": 5,
                       "labelColor": "#d42a2a", "labelFont": "Liberation Sans", "labelFontSize": 10, "labelPadding": 1, "ticks": false, "grid": false, "domainColor": "#c0d0e0"}},
        "color": {"datum": "Température", "type": "nominal",
                  "scale": {"domain": ["Température", "Pluie", "Intensité pluie", "Pression", "Humidité", "Rad. solaire", "Vent", "Rafale"],
                            "range": ["#e00000", "#6a6aee", "#cccccc", "#cccccc", "#cccccc", "#f5f500", "#cccccc", "#cccccc"]}}
      }
    },
    {
      "data": {"name": "pluie"},
      "mark": {"type": "bar", "opacity": 0.88},
      "encoding": {
        "x": {"field": "start", "type": "temporal", "axis": null,
              "scale": {"type": "time", "domain": [{"year": 2023, "month": 1, "date": 12, "hours": 18, "minutes": 17}, {"year": 2023, "month": 1, "date": 13, "hours": 18, "minutes": 23}], "range": [68, 658], "nice": false}},
        "x2": {"field": "end"},
        "y": {"field": "mm", "type": "quantitative", "scale": {"domain": [0, 0.5025], "range": [307, 52], "nice": false, "zero": false},
              "axis": {"orient": "left", "offset": -40, "values": [0, 0.1, 0.2, 0.3, 0.4], "format": ".1~f", "title": "mm", "titleColor": "#666666", "titleFont": "Liberation Sans", "titleFontSize": 10, "titleFontWeight": "normal", "titlePadding": 6,
                       "labelColor": "#4040c8", "labelFont": "Liberation Sans", "labelFontSize": 10, "labelPadding": 1, "labelOffset": -5, "ticks": false, "grid": false, "domainColor": "#dddddd"}},
        "y2": {"datum": 0},
        "color": {"datum": "Pluie", "type": "nominal",
                  "scale": {"domain": ["Température", "Pluie", "Intensité pluie", "Pression", "Humidité", "Rad. solaire", "Vent", "Rafale"],
                            "range": ["#e00000", "#6a6aee", "#cccccc", "#cccccc", "#cccccc", "#f5f500", "#cccccc", "#cccccc"]}}
      }
    },
    {
      "data": {"values": [{"texte": "Cumul pluviométrique sur la période affichée : 3.6 mm"}]},
      "mark": {"type": "text", "font": "Liberation Sans", "fontSize": 10, "fontWeight": "bold", "color": "#4d4d4d"},
      "encoding": {
        "x": {"datum": {"year": 2023, "month": 1, "date": 13, "hours": 5, "minutes": 49}, "type": "temporal", "axis": null,
              "scale": {"type": "time", "domain": [{"year": 2023, "month": 1, "date": 12, "hours": 18, "minutes": 17}, {"year": 2023, "month": 1, "date": 13, "hours": 18, "minutes": 23}], "range": [68, 658], "nice": false}},
        "y": {"datum": 0.02, "type": "quantitative", "axis": null, "scale": {"domain": [0, 0.5025], "range": [307, 52], "nice": false, "zero": false}},
        "text": {"field": "texte"}
      }
    }
  ],
  "resolve": {
    "scale": {"x": "independent", "y": "independent"},
    "axis": {"x": "independent", "y": "independent"}
  },
  "config": {
    "view": {"stroke": null},
    "font": "Liberation Sans",
    "axis": {"grid": false},
    "legend": {
      "strokeColor": "#333333",
      "fillColor": "#ffffff",
      "padding": 4,
      "labelFont": "Liberation Sans",
      "labelFontSize": 11,
      "labelFontWeight": "bold",
      "labelColor": {"expr": "indexof(['Température','Pluie','Rad. solaire'], datum.value) >= 0 ? '#333333' : '#cccccc'"},
      "labelOffset": 4,
      "labelLimit": 0,
      "symbolSize": 121,
      "symbolType": {"expr": "indexof(['Pluie','Intensité pluie','Humidité','Rad. solaire'], datum.value) >= 0 ? 'circle' : 'stroke'"},
      "symbolStrokeWidth": {"expr": "indexof(['Pluie','Intensité pluie','Humidité','Rad. solaire'], datum.value) >= 0 ? 0 : 2.5"},
      "symbolStrokeColor": {"expr": "scale('color', datum.value)"},
      "symbolFillColor": {"expr": "scale('color', datum.value)"},
      "symbolOpacity": 1,
      "columnPadding": 14,
      "rowPadding": 2
    }
  }
}
